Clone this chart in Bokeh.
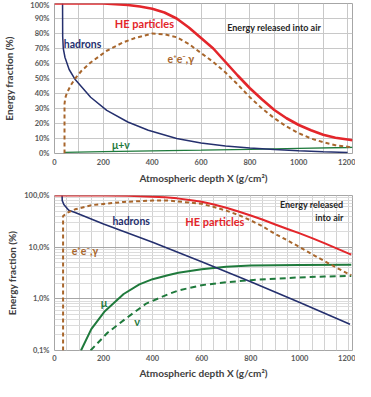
from bokeh.plotting import figure
from bokeh.layouts import column
from bokeh.models import Range1d, FixedTicker, Label, Grid, CustomJSTickFormatter
from bokeh.embed import file_html
from bokeh.resources import INLINE

# ---------------- data: linear chart (top) ----------------
top_he_x = [0, 100, 200, 250, 300, 350, 400, 450, 500, 550, 600, 650, 700, 750, 800, 850, 900, 950, 1000, 1050, 1100, 1150, 1200, 1220]
top_he_y = [100, 100, 100, 99.5, 99, 98, 96.5, 94, 90, 84, 77, 70, 61, 52, 43.5, 36, 29, 23.5, 19, 15.5, 12.5, 10.5, 9.3, 8.8]

top_em_x = [41, 41, 44, 50, 65, 83, 110, 148, 214, 280, 330, 400, 450, 500, 550, 600, 650, 700, 750, 800, 850, 900, 950, 1000, 1050, 1100, 1150, 1200, 1220]
top_em_y = [0, 33, 37, 40, 45, 49.7, 55, 60.7, 68.5, 74, 77, 80, 79.5, 77.5, 73, 67, 61, 54, 46, 37.5, 30, 23.5, 18, 13.5, 10, 7.5, 5.5, 4.5, 4]

top_had_x = [33, 33.5, 36, 43, 60, 83, 148, 214, 300, 384, 500, 600, 700, 800, 900, 1000, 1100, 1200]
top_had_y = [100, 78, 70, 64, 56, 49.7, 37.5, 28.7, 21, 15.5, 10, 7, 5, 3.7, 2.6, 1.8, 1.1, 0.7]

top_mn_x = [41, 200, 400, 600, 800, 1000, 1200, 1220]
top_mn_y = [0.7, 1.2, 1.7, 2.2, 2.8, 3.4, 4.0, 4.1]

top_yticks = [0, 10, 20, 30, 40, 50, 60, 70, 80, 90, 100]
xticks = [0, 200, 400, 600, 800, 1000, 1200]

# ---------------- data: log chart (bottom) ----------------
bot_he_x = [0, 200, 300, 400, 450, 500, 550, 600, 650, 700, 750, 800, 850, 900, 950, 1000, 1050, 1100, 1150, 1200, 1210]
bot_he_y = [100, 99.5, 98.5, 95, 92, 88, 82, 76, 67, 58, 49, 41, 34, 27.5, 22.5, 18.5, 15, 12, 9.5, 7.5, 7.2]

bot_em_x = [35, 35, 51, 84, 150, 282, 400, 466, 500, 550, 600, 650, 700, 750, 800, 850, 900, 950, 1000, 1050, 1100, 1150, 1200, 1210]
bot_em_y = [0.1, 40, 46, 54, 65, 75, 80, 80, 77, 73, 69, 60, 51, 42, 33, 25, 18, 13.5, 10, 7.3, 5.4, 4, 3, 2.9]

bot_had_x = [31, 31.5, 38, 58, 84, 200, 400, 600, 800, 1000, 1200, 1205]
bot_had_y = [100, 80, 67, 52, 47, 28, 12.5, 5.2, 2.15, 0.85, 0.33, 0.32]

bot_mu_x = [108, 150, 203, 282, 346, 400, 466, 505, 600, 700, 800, 1000, 1200, 1210]
bot_mu_y = [0.1, 0.26, 0.56, 1.24, 1.9, 2.4, 2.9, 3.2, 3.75, 4.2, 4.4, 4.5, 4.55, 4.55]

bot_nu_x = [147, 216, 295, 374, 466, 505, 600, 700, 800, 900, 1000, 1100, 1200, 1210]
bot_nu_y = [0.1, 0.22, 0.43, 0.81, 1.24, 1.45, 1.84, 2.1, 2.3, 2.45, 2.6, 2.7, 2.78, 2.78]

bot_yticks = [0.1, 1, 10, 100]

RED = "#E3262B"
NAVY = "#25306E"
BROWN = "#A8662C"
GREEN = "#1F7A3C"
FONT = "Lato"
LBL = "#404040"
TICK = "#595959"


def style(p):
    p.outline_line_color = "#A6A6A6"
    p.background_fill_color = "white"
    p.border_fill_color = "white"
    for ax in (p.xaxis[0], p.yaxis[0]):
        ax.axis_line_color = None
        ax.major_tick_line_color = None
        ax.minor_tick_line_color = None
        ax.major_tick_out = 0
        ax.minor_tick_out = 0
        ax.major_label_text_font = FONT
        ax.major_label_text_font_style = "bold"
        ax.major_label_text_font_size = "7.5px"
        ax.major_label_text_color = TICK
        ax.axis_label_text_font = FONT
        ax.axis_label_text_font_style = "bold"
        ax.axis_label_text_font_size = "10px"
        ax.axis_label_text_color = LBL
    p.xaxis.axis_label = "Atmospheric depth X (g/cm²)"
    p.yaxis.axis_label = "Energy fraction (%)"
    p.xaxis.ticker = FixedTicker(ticks=xticks)


def lab(p, x, y, text, color, size="10px", align="left"):
    p.add_layout(Label(x=x, y=y, text=text, text_color=color, text_font=FONT,
                       text_font_style="bold", text_font_size=size,
                       text_baseline="middle", text_align=align))


# ---------------- top figure ----------------
p1 = figure(width=355, height=186, x_range=Range1d(0, 1220), y_range=Range1d(0, 100),
            output_backend="svg", toolbar_location=None,
            min_border_left=44, min_border_right=1, min_border_top=3, min_border_bottom=33)
style(p1)
p1.yaxis.ticker = FixedTicker(ticks=top_yticks)
p1.yaxis.formatter = CustomJSTickFormatter(code="return tick + '%';")
p1.xgrid.ticker = FixedTicker(ticks=list(range(0, 1300, 100)))
p1.ygrid.ticker = FixedTicker(ticks=top_yticks)
p1.xgrid.grid_line_color = "#C8C8C8"
p1.ygrid.grid_line_color = "#C8C8C8"
p1.yaxis.major_label_standoff = 5
p1.yaxis.axis_label_standoff = 12
p1.xaxis.major_label_standoff = 5
p1.xaxis.axis_label_standoff = 4

p1.line(top_mn_x, top_mn_y, line_color=GREEN, line_width=1.3)
p1.line(top_had_x, top_had_y, line_color=NAVY, line_width=1.5)
p1.line(top_em_x, top_em_y, line_color=BROWN, line_width=2, line_dash="4 3")
p1.line(top_he_x, top_he_y, line_color=RED, line_width=2.6)

lab(p1, 247, 87, "HE particles", RED, "11px")
lab(p1, 707, 84, "Energy released into air", "#262626", "9px")
lab(p1, 38, 73, "hadrons", NAVY, "10.5px")
lab(p1, 463, 63, "e⁺e⁻,γ", BROWN, "10.5px")
lab(p1, 235, 5.5, "μ+ν", GREEN, "10.5px")

# ---------------- bottom figure ----------------
p2 = figure(width=355, height=195, x_range=Range1d(0, 1215), y_range=Range1d(0.1, 100),
            y_axis_type="log", output_backend="svg", toolbar_location=None,
            min_border_left=44, min_border_right=3, min_border_top=9, min_border_bottom=28)
style(p2)
p2.yaxis.ticker = FixedTicker(ticks=bot_yticks)
p2.yaxis.formatter = CustomJSTickFormatter(code="return tick.toFixed(1).replace('.', ',') + '%';")
p2.yaxis.major_label_standoff = 5
p2.yaxis.axis_label_standoff = 3
p2.xaxis.major_label_standoff = 4
p2.xaxis.axis_label_standoff = 3

minor_y = [m * d for d in (0.1, 1, 10) for m in range(1, 10)] + [100]
p2.xgrid.ticker = FixedTicker(ticks=list(range(0, 1250, 50)))
p2.xgrid.grid_line_color = "#D2D2D2"
p2.ygrid.ticker = FixedTicker(ticks=minor_y)
p2.ygrid.grid_line_color = "#DCDCDC"
p2.add_layout(Grid(dimension=1, ticker=FixedTicker(ticks=bot_yticks),
                   grid_line_color="#A6A6A6", grid_line_width=1.2))

p2.line(bot_nu_x, bot_nu_y, line_color=GREEN, line_width=2, line_dash="6 4")
p2.line(bot_mu_x, bot_mu_y, line_color=GREEN, line_width=2)
p2.line(bot_had_x, bot_had_y, line_color=NAVY, line_width=1.6)
p2.line(bot_em_x, bot_em_y, line_color=BROWN, line_width=2, line_dash="4 3")
p2.line(bot_he_x, bot_he_y, line_color=RED, line_width=2)

lab(p2, 1178, 67, "Energy released", "#262626", "9px", "right")
lab(p2, 1178, 37, "into air", "#262626", "9px", "right")
lab(p2, 236, 32, "hadrons", NAVY, "10.5px")
lab(p2, 533, 32, "HE particles", RED, "11px")
lab(p2, 70, 8.5, "e⁺e⁻,γ", BROWN, "10.5px")
lab(p2, 189, 0.86, "μ", GREEN, "11px")
lab(p2, 325, 0.37, "ν", GREEN, "11px")

layout = column(p1, p2, spacing=0)
open("out.html", "w").write(file_html(layout, INLINE))
